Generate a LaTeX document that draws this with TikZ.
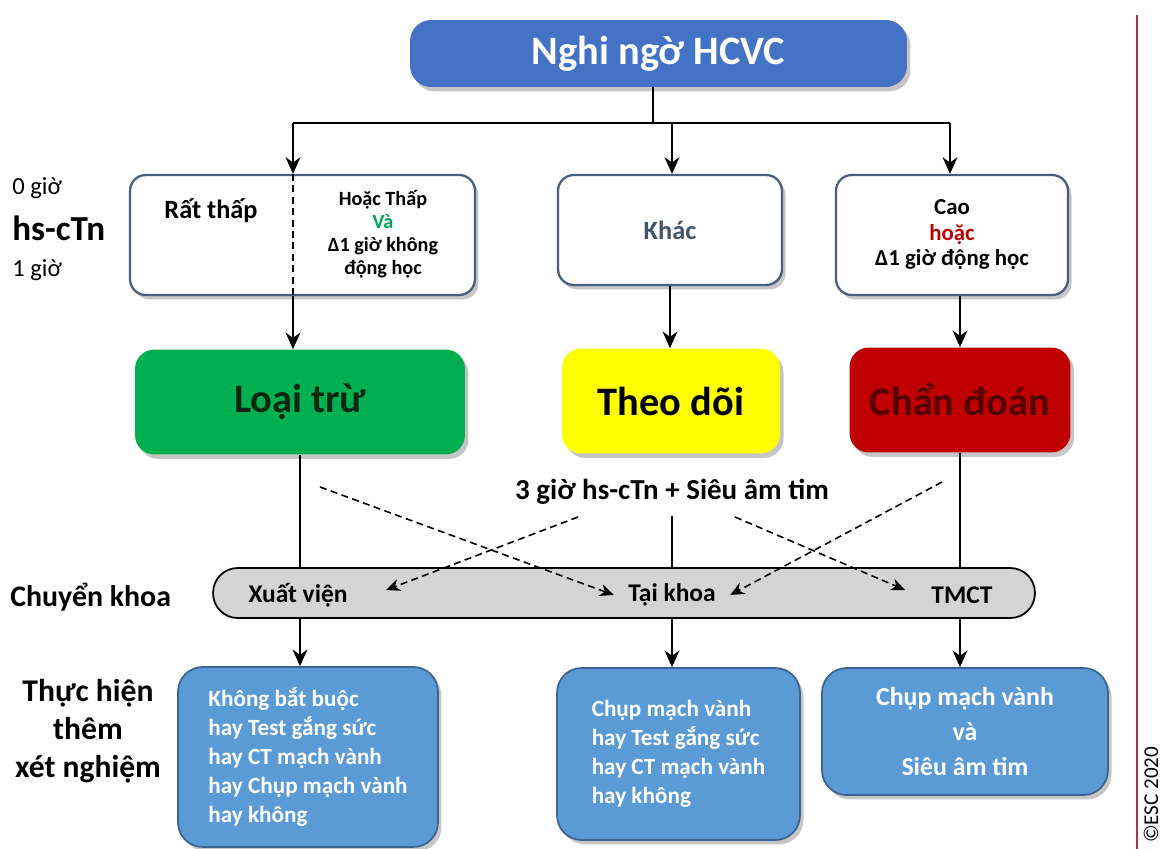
\documentclass[tikz,border=0pt]{standalone}
\usepackage{fontspec}
\setmainfont{Carlito}
\usetikzlibrary{arrows.meta, positioning, shadows, calc}
\definecolor{topBlue}{RGB}{68,114,196}
\definecolor{testBlue}{RGB}{91,155,213}
\definecolor{testEdge}{RGB}{60,100,145}
\definecolor{paleEdge}{RGB}{70,95,130}
\definecolor{okGreen}{RGB}{0,176,80}
\definecolor{okText}{RGB}{10,40,15}
\definecolor{waitYellow}{RGB}{255,255,0}
\definecolor{dxRed}{RGB}{192,0,0}
\definecolor{dxText}{RGB}{85,0,0}
\definecolor{slateText}{RGB}{68,84,106}
\definecolor{vaGreen}{RGB}{0,166,90}
\definecolor{pillGray}{RGB}{212,212,212}
\definecolor{ruleRed}{RGB}{160,60,70}

\tikzset{
  boxshadow/.style={drop shadow={opacity=0.45, shadow xshift=2pt, shadow yshift=-2.5pt}},
  topbox/.style={fill=topBlue, text=white, rounded corners=12pt, boxshadow,
    font=\fontsize{23}{27}\selectfont\bfseries},
  whitebox/.style={draw=paleEdge, line width=1.3pt, fill=white, rounded corners=9pt, boxshadow},
  goalbox/.style={rounded corners=11pt, minimum height=2.1cm, boxshadow,
    font=\fontsize{23}{27}\selectfont\bfseries},
  testbox/.style={draw=testEdge, line width=1pt, fill=testBlue, rounded corners=14pt,
    text=white, boxshadow},
  pilltext/.style={inner xsep=8pt, font=\fontsize{14.5}{17}\selectfont\bfseries},
  sidetext/.style={anchor=west, inner sep=0pt},
  link/.style={line width=1.1pt},
  maybe/.style={line width=0.9pt, dash pattern=on 4pt off 2.5pt, -{Stealth[length=8pt,width=7pt]}}
}

\begin{document}
\begin{tikzpicture}[x=0.02cm, y=-0.02cm, >={Stealth[length=9.5pt,width=8.5pt]}]
    \useasboundingbox (0,0) rectangle (1165,848);

    % dong tren
    \node[topbox, minimum width=9.94cm, minimum height=1.34cm] (hcvc) at (658.5,53.5) {Nghi ngờ HCVC};

    % hs-cTn 0 gio / 1 gio
    \node[sidetext, font=\fontsize{14}{16}\selectfont] (g0) at (12,188) {0 giờ};
    \node[sidetext, font=\fontsize{20}{24}\selectfont\bfseries] (hs) at (12,228) {hs-cTn};
    \node[sidetext, font=\fontsize{14}{16}\selectfont] (g1) at (12,270) {1 giờ};

    \node[whitebox, minimum width=6.9cm, minimum height=2.4cm] (rat) at (302.5,235) {};
    \node[font=\fontsize{15}{18}\selectfont\bfseries] (ratlbl) at (211,211) {Rất thấp};
    \node[align=center, font=\fontsize{11.5}{13}\selectfont\bfseries] (thap) at (383,234)
        {Hoặc Thấp\\\textcolor{vaGreen}{Và}\\Δ1 giờ không\\động học};
    \node[whitebox, minimum width=4.48cm, minimum height=2.2cm, text=slateText,
        font=\fontsize{15}{18}\selectfont\bfseries] (khac) at (670,230) {Khác};
    \node[whitebox, minimum width=4.64cm, minimum height=2.4cm, align=center,
        font=\fontsize{13}{14.5}\selectfont\bfseries] (cao) at (952,235)
        {Cao\\\textcolor{dxRed}{hoặc}\\Δ1 giờ động học};

    % ket qua
    \node[goalbox, fill=okGreen, text=okText, minimum width=6.6cm] (loai) at (300,402) {Loại trừ};
    \node[goalbox, fill=waitYellow, minimum width=4.36cm] (theo) at (671,401) {Theo dõi};
    \node[goalbox, fill=dxRed, text=dxText, minimum width=4.42cm] (chan) at (960,400) {Chẩn đoán};

    % chuyen khoa
    \node[sidetext, font=\fontsize{17}{20}\selectfont\bfseries] (ck) at (10,597) {Chuyển khoa};
    \node[draw, line width=1pt, fill=pillGray, rounded corners=14pt,
        minimum width=16.44cm, minimum height=1cm] (pill) at (624,593) {};
    \node[pilltext] (xv) at (298,595) {Xuất viện};
    \node[pilltext] (tk) at (672,595) {Tại khoa};
    \node[pilltext] (tmct) at (962,595) {TMCT};

    % xet nghiem them
    \node[align=center, font=\fontsize{18}{21.5}\selectfont\bfseries] (th) at (88,731)
        {Thực hiện\\thêm\\xét nghiệm};
    \node[testbox, minimum width=5.2cm, minimum height=3.6cm, align=left,
        font=\fontsize{13.2}{16.5}\selectfont\bfseries] (opt) at (308,757)
        {Không bắt buộc\\hay Test gắng sức\\hay CT mạch vành\\hay Chụp mạch vành\\hay không};
    \node[testbox, minimum width=4.86cm, minimum height=3.44cm, align=left,
        font=\fontsize{13.2}{16.5}\selectfont\bfseries] (mid) at (678.5,754)
        {Chụp mạch vành\\hay Test gắng sức\\hay CT mạch vành\\hay không};
    \node[testbox, minimum width=5.72cm, minimum height=2.54cm, align=center,
        font=\fontsize{14.7}{20}\selectfont\bfseries] (cor) at (965,731.5)
        {Chụp mạch vành\\và\\Siêu âm tim};

    % nhanh tren
    \coordinate (jl) at (293,123);
    \coordinate (jm) at (653,123);
    \coordinate (jk) at (672,123);
    \coordinate (jr) at (950,123);
    \draw[link] (jm |- hcvc.south) -- (jm);
    \draw[link] (jl) -- (jr);
    \draw[link, ->] (jl) -- (jl |- rat.north);
    \draw[link, ->] (jk) -- (jk |- khac.north);
    \draw[link, ->] (jr) -- (jr |- cao.north);
    \draw[line width=0.9pt, dash pattern=on 4pt off 2.5pt] (jl |- rat.north) -- (jl |- rat.south);

    \draw[link, ->] (jl |- rat.south) -- (jl |- loai.north);
    \draw[link, ->] (khac.south) -- (khac.south |- theo.north);
    \draw[link, ->] (cao.south -| chan.north) -- (chan.north);

    % mui ten net dut
    \coordinate (a0) at (320,487);
    \coordinate (b0) at (578,517);
    \coordinate (b1) at (386,590);
    \coordinate (c0) at (942,482);
    \coordinate (d0) at (735,517);
    \coordinate (d1) at (905,590);
    \draw[maybe] (a0) -- (tk.west);
    \draw[maybe] (b0) -- (b1);
    \draw[maybe] (c0) -- (tk.east);
    \draw[maybe] (d0) -- (d1);

    \node[fill=white, inner ysep=6pt, font=\fontsize{16.5}{19}\selectfont\bfseries] (gio3) at (672,492)
        {3 giờ hs-cTn + Siêu âm tim};

    \draw[link] (loai.south) -- (loai.south |- pill.north);
    \draw[link] (gio3.south) -- (gio3.south |- pill.north);
    \draw[link] (chan.south) -- (chan.south |- pill.north);
    \draw[link, ->] (loai.south |- pill.south) -- (loai.south |- opt.north);
    \draw[link, ->] (gio3.south |- pill.south) -- (gio3.south |- mid.north);
    \draw[link, ->] (chan.south |- pill.south) -- (chan.south |- cor.north);

    % le phai
    \draw[ruleRed, line width=1.3pt] (1137,15) -- (1137,850);
    \node[rotate=90, anchor=west, inner sep=1pt, font=\fontsize{12}{14}\selectfont] (esc) at (1151,845) {©ESC 2020};
\end{tikzpicture}
\end{document}
